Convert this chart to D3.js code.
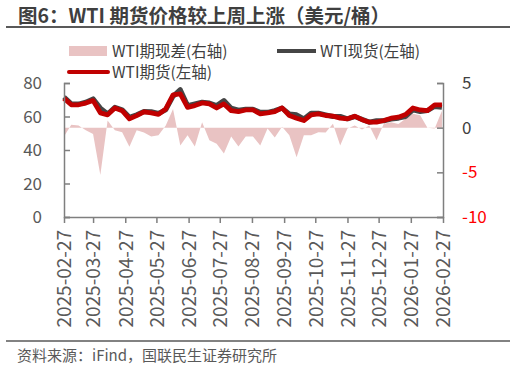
<!DOCTYPE html>
<html><head><meta charset="utf-8">
<script src="https://cdn.jsdelivr.net/npm/d3@7"></script>
<style>
html,body{margin:0;padding:0;background:#fff;}
svg{display:block;}
text{font-family:"Noto Sans CJK SC","Noto Sans",sans-serif;}
</style></head>
<body>
<script>
const dates = ["2025-02-27","2025-03-06","2025-03-13","2025-03-20","2025-03-27","2025-04-03","2025-04-10","2025-04-17","2025-04-24","2025-05-01","2025-05-08","2025-05-15","2025-05-22","2025-05-29","2025-06-05","2025-06-12","2025-06-19","2025-06-26","2025-07-03","2025-07-10","2025-07-17","2025-07-24","2025-07-31","2025-08-07","2025-08-14","2025-08-21","2025-08-28","2025-09-04","2025-09-11","2025-09-18","2025-09-25","2025-10-02","2025-10-09","2025-10-16","2025-10-23","2025-10-30","2025-11-06","2025-11-13","2025-11-20","2025-11-27","2025-12-04","2025-12-11","2025-12-18","2025-12-25","2026-01-01","2026-01-08","2026-01-15","2026-01-22","2026-01-29","2026-02-05","2026-02-12","2026-02-19","2026-02-26"];
const futures = [70.8,67.0,67.0,68.0,69.5,62.2,61.0,65.1,63.5,58.6,60.5,62.8,62.2,61.3,64.5,72.9,73.5,65.5,66.5,68.1,67.5,65.1,67.5,63.5,62.9,63.9,63.9,61.6,62.2,62.9,65.1,60.6,59.0,57.6,61.0,61.6,60.6,60.2,59.0,58.6,60.2,58.1,56.6,56.6,57.6,59.0,59.6,61.2,65.1,63.9,63.5,66.9,66.9];
const spot = [71.6,67.5,67.4,68.5,70.5,65.0,61.5,65.5,64.0,59.5,61.0,63.0,62.8,61.8,64.0,72.0,76.0,66.5,67.5,68.5,68.0,66.5,69.5,65.0,63.8,64.3,64.3,62.5,62.5,63.5,65.0,61.5,61.0,58.5,62.0,62.0,61.0,60.0,60.0,58.6,60.0,58.3,56.6,57.5,57.4,58.5,59.0,60.0,64.0,63.0,63.5,66.0,65.5];
const basis = [-1.0,0.33,0.25,-0.3,-0.7,-5.3,0.8,-0.3,-0.5,-2.15,-0.3,-0.55,-1.0,-0.85,0.25,2.1,-2.0,-0.85,-2.1,0.6,-1.4,-1.8,-2.9,-1.0,-2.1,-1.0,-1.0,-2.0,-0.1,-1.1,0.1,-0.85,-3.3,-0.85,-0.85,-0.5,-0.55,0.45,-2.0,-0.1,0.25,-0.2,0.25,-1.4,0.45,0.6,0.4,1.0,1.55,1.4,0.0,-0.1,1.9];
const xTicks = ["2025-02-27","2025-03-27","2025-04-27","2025-05-27","2025-06-27","2025-07-27","2025-08-27","2025-09-27","2025-10-27","2025-11-27","2025-12-27","2026-01-27","2026-02-27"];
const leftTicks = [0,20,40,60,80];
const rightTicks = [-10,-5,0,5];

const W = 516, H = 369;
const parse = d3.timeParse("%Y-%m-%d");
const fmt = d3.timeFormat("%Y-%m-%d");
const data = dates.map((d,i)=>({date:parse(d), f:futures[i], s:spot[i], b:basis[i]}));

const svg = d3.select("body").append("svg").attr("width",W).attr("height",H);

// title
svg.append("text").attr("x",18).attr("y",23).attr("font-size",19.5).attr("font-weight","bold")
  .attr("fill","#3f3f3f").text("图6：WTI 期货价格较上周上涨（美元/桶）");
svg.append("line").attr("x1",6).attr("x2",510).attr("y1",27).attr("y2",27)
  .attr("stroke","#595959").attr("stroke-width",2);

const x = d3.scaleTime().domain([parse(xTicks[0]), parse(xTicks[xTicks.length-1])]).range([64,443]);
const yL = d3.scaleLinear().domain([0,80]).range([217,83]);
const yR = d3.scaleLinear().domain([-10,5]).range([217,83]);

// area
const area = d3.area().x(d=>x(d.date)).y0(yR(0)).y1(d=>yR(d.b));
svg.append("path").datum(data).attr("d",area).attr("fill","#e9c3c3");

const lineS = d3.line().x(d=>x(d.date)).y(d=>yL(d.s));
const lineF = d3.line().x(d=>x(d.date)).y(d=>yL(d.f));
svg.append("path").datum(data).attr("d",lineS).attr("fill","none").attr("stroke","#454545").attr("stroke-width",5).attr("stroke-linejoin","round");
svg.append("path").datum(data).attr("d",lineF).attr("fill","none").attr("stroke","#c00000").attr("stroke-width",4.8).attr("stroke-linejoin","round");

// axes
const axisColor = "#7f7f7f";
const gL = svg.append("g").attr("transform","translate(64,0)")
  .call(d3.axisRight(yL).tickValues(leftTicks).tickSize(6).tickFormat(d3.format("d")));
gL.selectAll("text").remove();
gL.selectAll("line,path").attr("stroke",axisColor).attr("stroke-width",1.5);
leftTicks.forEach(t=>{
  svg.append("text").attr("x",42).attr("y",yL(t)).attr("dy","0.36em").attr("text-anchor","end")
    .attr("font-size",17).attr("fill","#595959").text(t);
});
const gR = svg.append("g").attr("transform","translate(443,0)")
  .call(d3.axisLeft(yR).tickValues(rightTicks).tickSize(6));
gR.selectAll("text").remove();
gR.selectAll("line,path").attr("stroke",axisColor).attr("stroke-width",1.5);
rightTicks.forEach(t=>{
  svg.append("text").attr("x",462).attr("y",yR(t)).attr("dy","0.36em").attr("text-anchor","start")
    .attr("font-size",17).attr("fill", t<0 ? "#ff0000" : "#404040").text(t);
});
const gB = svg.append("g").attr("transform","translate(0,217)")
  .call(d3.axisBottom(x).tickValues(xTicks.map(parse)).tickSize(6).tickFormat(fmt));
gB.selectAll("line,path").attr("stroke",axisColor).attr("stroke-width",1.5);
gB.selectAll("text").attr("font-size",19).attr("fill","#595959")
  .attr("transform","rotate(-90)").attr("text-anchor","end")
  .attr("x",-13).attr("y",0).attr("dy","0.36em")
  .style("font-family","'Noto Sans CJK SC','Noto Sans',sans-serif");
gB.select(".domain").attr("d","M64.5,0.5H443.5");

// legend
const lg = svg.append("g");
lg.append("rect").attr("x",69).attr("y",46).attr("width",38).attr("height",10).attr("fill","#e9c3c3");
lg.append("text").attr("x",112).attr("y",51).attr("dy","0.36em").attr("font-size",15.5).attr("fill","#404040").text("WTI期现差(右轴)");
lg.append("line").attr("x1",277).attr("x2",316).attr("y1",51).attr("y2",51).attr("stroke","#454545").attr("stroke-width",4);
lg.append("text").attr("x",320).attr("y",51).attr("dy","0.36em").attr("font-size",15.5).attr("fill","#404040").text("WTI现货(左轴)");
lg.append("line").attr("x1",69).attr("x2",108).attr("y1",72).attr("y2",72).attr("stroke","#c00000").attr("stroke-width",4).attr("stroke-linecap","round");
lg.append("text").attr("x",112).attr("y",72).attr("dy","0.36em").attr("font-size",15.5).attr("fill","#404040").text("WTI期货(左轴)");

// footer
svg.append("line").attr("x1",6).attr("x2",510).attr("y1",341).attr("y2",341)
  .attr("stroke","#595959").attr("stroke-width",1.5);
svg.append("text").attr("x",17).attr("y",361).attr("font-size",15).attr("fill","#595959")
  .text("资料来源：iFind，国联民生证券研究所");
</script>
</body></html>
